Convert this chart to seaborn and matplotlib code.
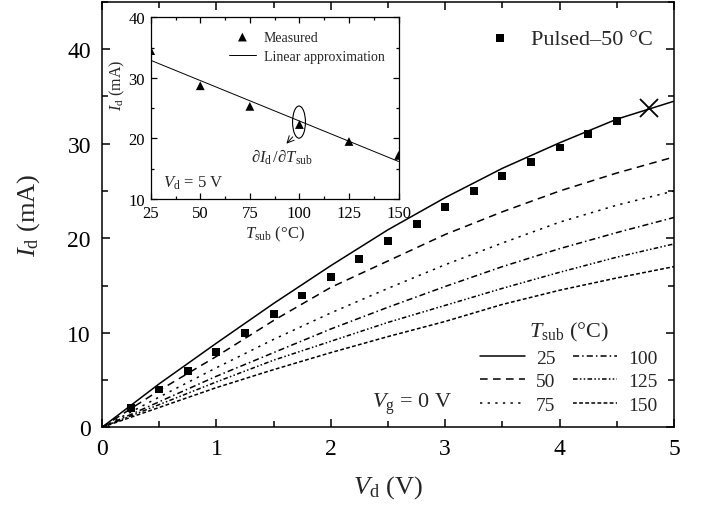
import matplotlib
matplotlib.use("Agg")
import matplotlib.pyplot as plt
from matplotlib.patches import Ellipse
from matplotlib.ticker import MultipleLocator
import numpy as np
import pandas as pd
import seaborn as sns

# ---- data ----
vd = [0, 0.5, 1, 1.5, 2, 2.5, 3, 3.5, 4, 4.5, 5]
temps = [25, 50, 75, 100, 125, 150]
id_25 = [0, 4.6, 8.9, 13.1, 17.1, 20.9, 24.3, 27.4, 30.1, 32.6, 34.5]
id_50 = [0, 3.9, 7.5, 11.3, 14.8, 17.6, 20.4, 22.8, 25.0, 26.9, 28.6]
id_75 = [0, 3.2, 6.3, 9.3, 12.1, 14.7, 17.2, 19.5, 21.7, 23.5, 25.0]
id_100 = [0, 2.7, 5.4, 7.9, 10.4, 12.7, 14.9, 17.0, 18.9, 20.6, 22.2]
id_125 = [0, 2.4, 4.8, 7.1, 9.1, 11.1, 12.9, 14.7, 16.4, 18.0, 19.4]
id_150 = [0, 2.1, 4.2, 6.1, 7.9, 9.6, 11.2, 13.0, 14.5, 15.8, 17.0]

pulsed_vd = [0.25, 0.5, 0.75, 1.0, 1.25, 1.5, 1.75, 2.0, 2.25, 2.5, 2.75,
             3.0, 3.25, 3.5, 3.75, 4.0, 4.25, 4.5]
pulsed_id = [2.0, 4.0, 6.0, 8.0, 10.0, 12.0, 13.95, 15.9, 17.85, 19.75, 21.55,
             23.3, 25.0, 26.55, 28.1, 29.6, 31.0, 32.4]
cross_vd = [4.78]
cross_id = [33.8]

# inset: Id at Vd = 5 V vs substrate temperature
inset_t = [25, 50, 75, 100, 125, 150]
inset_id = [34.5, 28.7, 25.3, 22.3, 19.5, 17.2]
lin_t = [25, 150]
lin_id = [32.9, 16.2]

styles = {
    25: "-",
    50: (0, (5, 3.5)),
    75: (0, (1.5, 3.5)),
    100: (0, (4, 2, 1, 2)),
    125: (0, (3, 1.5, 1, 1.5, 1, 1.5)),
    150: (0, (2.5, 1.5)),
}

sns.set_theme(style="ticks")
plt.rcParams.update({
    "font.family": ["Liberation Serif", "DejaVu Serif"],
    "mathtext.fontset": "custom",
    "mathtext.rm": "Liberation Serif",
    "mathtext.it": "Liberation Serif:italic",
    "axes.edgecolor": "black",
    "axes.linewidth": 1.1,
    "xtick.direction": "in",
    "ytick.direction": "in",
    "xtick.color": "black",
    "ytick.color": "black",
})

curves = pd.DataFrame({
    "Vd": vd * 6,
    "Id": id_25 + id_50 + id_75 + id_100 + id_125 + id_150,
    "T": np.repeat(temps, len(vd)),
})

fig = plt.figure(figsize=(7.02, 5.10), dpi=100)
ax = fig.add_axes([0.1453, 0.1602, 0.8148, 0.834])

line_handles = []
for t in temps:
    sub = curves[curves["T"] == t]
    sns.lineplot(data=sub, x="Vd", y="Id", ax=ax, color="black", lw=1.1,
                 linestyle=styles[t], label=str(t), legend=False)
    line_handles.append(ax.lines[-1])

sns.scatterplot(x=pulsed_vd, y=pulsed_id, ax=ax, marker="s", color="black",
                s=32, edgecolor="none", zorder=3)
sq_handle = ax.collections[-1]
ax.plot(cross_vd, cross_id, marker="x", color="black", ms=13, mew=1.3, ls="none")

ax.set_xlim(0, 5)
ax.set_ylim(0, 45)
ax.xaxis.set_major_locator(MultipleLocator(1))
ax.xaxis.set_minor_locator(MultipleLocator(0.5))
ax.yaxis.set_major_locator(MultipleLocator(10))
ax.yaxis.set_minor_locator(MultipleLocator(5))
ax.tick_params(which="both", top=True, right=True, labelsize=17, pad=8)
ax.tick_params(which="major", length=6, width=1.1)
ax.tick_params(which="minor", length=4, width=1.1)
ax.set_xlabel(r"$V_{\rm d}$ (V)", fontsize=19, labelpad=10)
ax.set_ylabel(r"$I_{\rm d}$ (mA)", fontsize=19, labelpad=18)

ax.text(2.36, 2.1, r"$V_{\rm g}$ = 0 V", fontsize=16)

leg1 = ax.legend([sq_handle], ["Pulsed–50 °C"], loc="upper right",
                 bbox_to_anchor=(0.998, 0.985), frameon=False, fontsize=16,
                 handletextpad=0.65, handlelength=1.5)
ax.add_artist(leg1)
ax.legend(line_handles, [str(t) for t in temps], ncol=2, loc="lower right",
          bbox_to_anchor=(0.995, 0.0), frameon=False, fontsize=14,
          title=r"$T_{\rm sub}$ (°C)", title_fontsize=16,
          handlelength=2.3, handletextpad=0.55, columnspacing=0.9,
          labelspacing=0.3, borderaxespad=0.3)

# ---- inset ----
axi = fig.add_axes([0.2147, 0.6078, 0.353, 0.3563])
sns.scatterplot(x=inset_t, y=inset_id, ax=axi, marker="^", color="black",
                s=40, edgecolor="none", label="Measured", zorder=3)
sns.lineplot(x=lin_t, y=lin_id, ax=axi, color="black", lw=0.7,
             label="Linear approximation")
axi.set_xlim(25, 150)
axi.set_ylim(10, 40)
axi.xaxis.set_major_locator(MultipleLocator(25))
axi.xaxis.set_minor_locator(MultipleLocator(12.5))
axi.yaxis.set_major_locator(MultipleLocator(10))
axi.yaxis.set_minor_locator(MultipleLocator(5))
axi.tick_params(which="both", top=True, right=True, labelsize=12, pad=4)
axi.tick_params(which="major", length=4, width=0.9)
axi.tick_params(which="minor", length=2.5, width=0.9)
for s in axi.spines.values():
    s.set_linewidth(0.9)
axi.set_xlabel(r"$T_{\rm sub}$ (°C)", fontsize=12, labelpad=2)
axi.set_ylabel(r"$I_{\rm d}$ (mA)", fontsize=11.5)
axi.yaxis.set_label_coords(-0.095, 0.63)
axi.legend(loc="upper right", frameon=False, fontsize=10,
           handlelength=1.9, handletextpad=0.6, labelspacing=0.45,
           bbox_to_anchor=(0.995, 0.995))

axi.add_patch(Ellipse((99.8, 22.7), 6.5, 5.3, fill=False, lw=0.8,
                      color="black"))
axi.annotate("", xy=(92.5, 18.8), xytext=(97.6, 20.6),
             arrowprops=dict(arrowstyle="->", lw=0.7, color="black"))
axi.text(91, 17.1, r"$\partial I_{\rm d}\,/\partial T_{\rm sub}$",
         fontsize=12, ha="center", va="center")
axi.text(31, 12.8, r"$V_{\rm d}$ = 5 V", fontsize=12, va="center")

fig.savefig("out.png", dpi=100)
